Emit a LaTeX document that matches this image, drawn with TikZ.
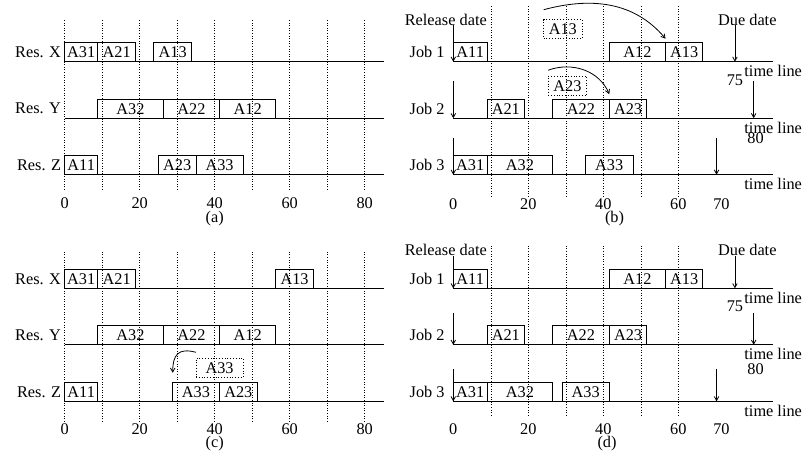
\documentclass[tikz,border=0pt]{standalone}
\usepackage{fontspec}
\setmainfont{Liberation Serif}
\usetikzlibrary{arrows.meta,positioning}

\tikzset{
  task/.style={draw, anchor=south west, minimum height=19pt, inner sep=0pt,
    outer sep=0pt, minimum width=3.75pt*#1},
  moved/.style={task=#1, dotted},
  grid line/.style={dotted, line width=0.6pt},
  res/.style={anchor=east},
  lbl/.style={inner sep=1pt},
}

\begin{document}
\begin{tikzpicture}[x=3.75pt, y=1pt, line width=0.8pt, node distance=0pt,
  >={Straight Barb[length=4pt,width=4.5pt]}, font=\fontsize{16.3}{19}\selectfont]
\useasboundingbox (0pt,0pt) rectangle (808pt,464pt);

% (a) schedule per resource
\begin{scope}[shift={(64.7pt,289.3pt)}]
\foreach \t in {0,10,...,80} \draw[grid line] (\t,-15) -- (\t,155);
\foreach \t in {0,20,...,80} \node[lbl] (a-t\t) at (\t,-28.5) {\t};
\node[lbl] (a-cap) at (40,-43.5) {(a)};
\coordinate (aX) at (0,113);
\coordinate (aY) at (0,56.5);
\coordinate (aZ) at (0,0);
\foreach \r in {X,Y,Z} {
  \draw (a\r) -- ++(85.1,0);
  \node[res] (a-res\r) at ([yshift=9.5pt]a\r) {Res. \r};
}
\node[task=8.8] (a-a31) at (aX) {A31};
\node[task=10.1, right=of a-a31] (a-a21) {A21};
\node[task=10.2] (a-a13) at (23.7,113) {A13};
\node[task=17.5] (a-a32) at (8.8,56.5) {A32};
\node[task=15, right=of a-a32] (a-a22) {A22};
\node[task=15, right=of a-a22] (a-a12) {A12};
\node[task=8.8] (a-a11) at (aZ) {A11};
\node[task=10] (a-a23) at (25,0) {A23};
\node[task=12.6, right=of a-a23] (a-a33) {A33};
\end{scope}

% (b) schedule per job
\begin{scope}[shift={(453.3pt,289.3pt)}]
\foreach \t in {10,20,...,60} \draw[grid line] (\t,-22) -- (\t,170);
\foreach \t in {0,20,40,60} \node[lbl] (b-t\t) at (\t,-29) {\t};
\node[lbl] (b-t70) at (71.5,-29) {70};
\node[lbl] (b-cap) at (43,-43.5) {(b)};
\coordinate (b1) at (0,113);
\coordinate (b2) at (0,56.5);
\coordinate (b3) at (0,0);
\coordinate (b1-due) at (75.1,113);
\coordinate (b2-due) at (80.1,56.5);
\coordinate (b3-due) at (70.2,0);
\foreach \j in {1,2,3} {
  \draw (b\j) -- ++(85.3,0) node[lbl, yshift=-9.5pt] (b-line\j) {time line};
  \node[res, xshift=-5pt] (b-job\j) at ([yshift=9.5pt]b\j) {Job \j};
  \draw[->] ([yshift=37pt]b\j) -- (b\j);
  \draw[->] ([yshift=37pt]b\j-due) -- (b\j-due);
}
\node (b-rel) at (-2,155) {Release date};
\node (b-due) at (78.4,155) {Due date};
\node[lbl] (b-75) at (75.1,94) {75};
\node[lbl] (b-80) at (80.6,37) {80};
\node[task=9] (b-a11) at (b1) {A11};
\node[task=15] (b-a12) at (41.6,113) {A12};
\node[task=9.9, right=of b-a12] (b-a13) {A13};
\node[task=10] (b-a21) at (9,56.5) {A21};
\node[task=15.1] (b-a22) at (26.5,56.5) {A22};
\node[task=10, right=of b-a22] (b-a23) {A23};
\node[task=9] (b-a31) at (b3) {A31};
\node[task=17.5, right=of b-a31] (b-a32) {A32};
\node[task=12.7] (b-a33) at (35.2,0) {A33};
% operations pushed to the right
\node[moved=10.2] (b-m13) at (24.1,136) {A13};
\node[moved=10.3] (b-m23) at (25.3,79.5) {A23};
\draw[->] ([yshift=10pt]b-m13.north west) to[out=15,in=130] ([yshift=4pt]b-a13.north west);
\draw[->] ([yshift=6pt]b-m23.north west) to[out=20,in=113] ([yshift=5pt]b-a23.north west);
\end{scope}

% (c) resources after the move
\begin{scope}[shift={(64.7pt,62.7pt)}]
\foreach \t in {0,10,...,80} \draw[grid line] (\t,-20) -- (\t,151);
\foreach \t in {0,20,...,80} \node[lbl] (c-t\t) at (\t,-28) {\t};
\node[lbl] (c-cap) at (40,-42.5) {(c)};
\coordinate (cX) at (0,113);
\coordinate (cY) at (0,56.5);
\coordinate (cZ) at (0,0);
\foreach \r in {X,Y,Z} {
  \draw (c\r) -- ++(85.1,0);
  \node[res] (c-res\r) at ([yshift=9.5pt]c\r) {Res. \r};
}
\node[task=8.8] (c-a31) at (cX) {A31};
\node[task=10.1, right=of c-a31] (c-a21) {A21};
\node[task=10] (c-a13) at (56.3,113) {A13};
\node[task=17.5] (c-a32) at (8.8,56.5) {A32};
\node[task=15, right=of c-a32] (c-a22) {A22};
\node[task=15, right=of c-a22] (c-a12) {A12};
\node[task=8.8] (c-a11) at (cZ) {A11};
\node[task=12.4] (c-a33) at (28.8,0) {A33};
\node[task=10.2, right=of c-a33] (c-a23) {A23};
\node[moved=12.6] (c-m33) at (35,24) {A33};
\draw[->] ([yshift=6pt]c-m33.north west) to[out=165,in=90,looseness=1.5] ([yshift=9.5pt]c-a33.north west);
\end{scope}

% (d) jobs after the move
\begin{scope}[shift={(453.3pt,62.7pt)}]
\foreach \t in {10,20,...,60} \draw[grid line] (\t,-14) -- (\t,156);
\foreach \t in {0,20,40,60} \node[lbl] (d-t\t) at (\t,-28) {\t};
\node[lbl] (d-t70) at (71.5,-28) {70};
\node[lbl] (d-cap) at (41,-42.3) {(d)};
\coordinate (d1) at (0,113);
\coordinate (d2) at (0,56.5);
\coordinate (d3) at (0,0);
\coordinate (d1-due) at (75.1,113);
\coordinate (d2-due) at (80.1,56.5);
\coordinate (d3-due) at (70.2,0);
\foreach \j in {1,2,3} {
  \draw (d\j) -- ++(85.3,0) node[lbl, yshift=-9.5pt] (d-line\j) {time line};
  \node[res, xshift=-5pt] (d-job\j) at ([yshift=9.5pt]d\j) {Job \j};
  \draw[->] ([yshift=32pt]d\j) -- (d\j);
  \draw[->] ([yshift=32pt]d\j-due) -- (d\j-due);
}
\node (d-rel) at (-2,151) {Release date};
\node (d-due) at (78.4,151) {Due date};
\node[lbl] (d-75) at (75.1,94.7) {75};
\node[lbl] (d-80) at (80.6,32) {80};
\node[task=9] (d-a11) at (d1) {A11};
\node[task=15] (d-a12) at (41.6,113) {A12};
\node[task=9.9, right=of d-a12] (d-a13) {A13};
\node[task=10] (d-a21) at (9,56.5) {A21};
\node[task=15.1] (d-a22) at (26.5,56.5) {A22};
\node[task=10, right=of d-a22] (d-a23) {A23};
\node[task=9] (d-a31) at (d3) {A31};
\node[task=17.5, right=of d-a31] (d-a32) {A32};
\node[task=12.6] (d-a33) at (29,0) {A33};
\end{scope}
\end{tikzpicture}
\end{document}
